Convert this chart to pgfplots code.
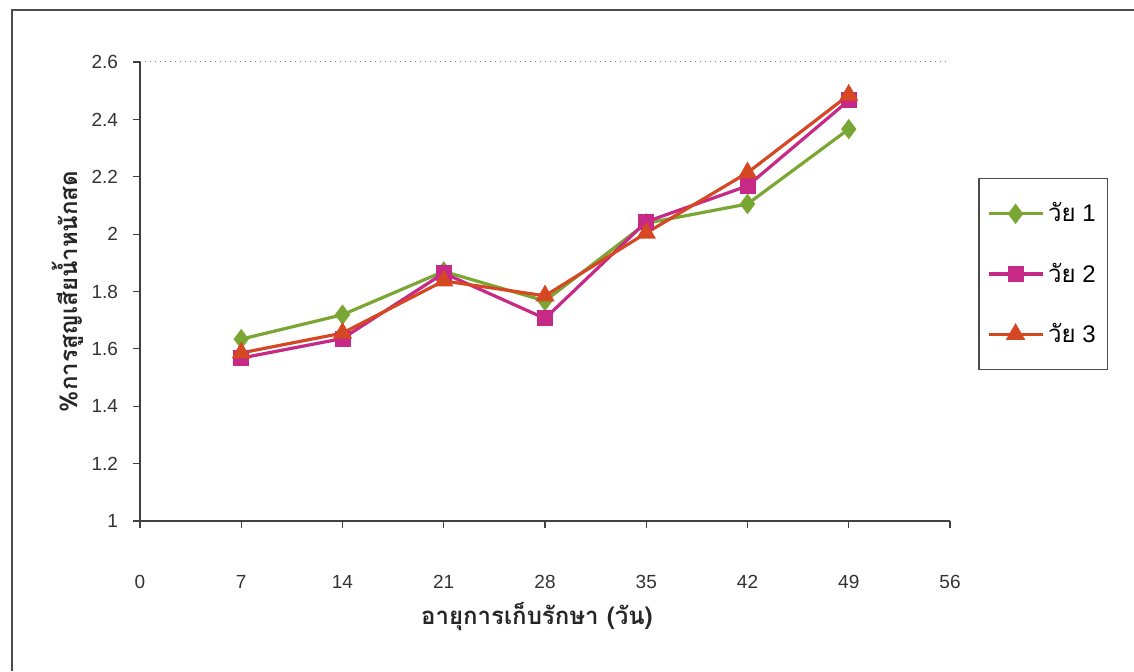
\documentclass[border=0pt]{standalone}
\usepackage{pgfplots}
\pgfplotsset{compat=1.18}
\usepackage{fontspec}
\setmainfont{Liberation Sans}
\newfontfamily\thai[Script=Thai]{Loma}
\definecolor{cGreen}{RGB}{122,166,52}
\definecolor{cMag}{RGB}{198,42,134}
\definecolor{cRed}{RGB}{214,72,36}
\begin{document}
\begin{tikzpicture}
\useasboundingbox (0,0) rectangle (567pt,335.5pt);
\draw[line width=0.8pt, black!70] (6pt,0) -- (6pt,330.5pt) -- (567pt,330.5pt);
\begin{axis}[
  at={(70pt,75pt)}, anchor=south west,
  scale only axis, width=405pt, height=229.5pt,
  xmin=0, xmax=56, ymin=1, ymax=2.6,
  xtick={0,7,14,21,28,35,42,49,56},
  ytick={1,1.2,1.4,1.6,1.8,2,2.2,2.4,2.6},
  axis x line=bottom, axis y line=left,
  axis line style={-, black!75, line width=0.6pt},
  tick align=outside, major tick length=3.5pt,
  tick style={black!75, line width=0.6pt},
  /pgf/number format/assume math mode=true,
  ticklabel style={font=\fontsize{9.5}{11}\selectfont, text=black!80},
  xticklabel shift=20pt,
  yticklabel shift=4pt,
  xlabel={\thai\bfseries อายุการเก็บรักษา (วัน)},
  ylabel={\thai\bfseries \%การสูญเสียน้ำหนักสด},
  label style={font=\fontsize{12}{14}\selectfont, text=black!85},
  xlabel style={at={(axis description cs:0.49,-0.209)}, anchor=center},
  ylabel style={at={(axis description cs:-0.089,0.5)}, anchor=center},
  legend style={at={(1.035,0.747)}, anchor=north west, draw=black!70, line width=0.6pt,
    font=\fontsize{12}{14}\selectfont, inner xsep=4pt, inner ysep=10pt, row sep=15pt,
    cells={anchor=west}},
  legend cell align=left,
  legend image code/.code={\draw[mark repeat=2,mark phase=2] plot coordinates {(0pt,0pt)(13.5pt,0pt)(27pt,0pt)};},
  clip=false,
]
\draw[dotted, black!50, line width=0.5pt] (rel axis cs:0,1) -- (rel axis cs:1,1);
\addplot[cGreen, line width=1.6pt, mark=diamond*, mark size=3.8pt, mark options={solid}] coordinates {
 (7,1.634) (14,1.719) (21,1.87) (28,1.767) (35,2.038) (42,2.105) (49,2.366)};
\addlegendentry{{\thai วัย} 1}
\addplot[cMag, line width=1.6pt, mark=square*, mark size=3.2pt] coordinates {
 (7,1.568) (14,1.636) (21,1.864) (28,1.706) (35,2.043) (42,2.168) (49,2.466)};
\addlegendentry{{\thai วัย} 2}
\addplot[cRed, line width=1.6pt, mark=triangle*, mark size=4pt] coordinates {
 (7,1.586) (14,1.655) (21,1.837) (28,1.785) (35,2.004) (42,2.214) (49,2.485)};
\addlegendentry{{\thai วัย} 3}
\end{axis}
\end{tikzpicture}
\end{document}
